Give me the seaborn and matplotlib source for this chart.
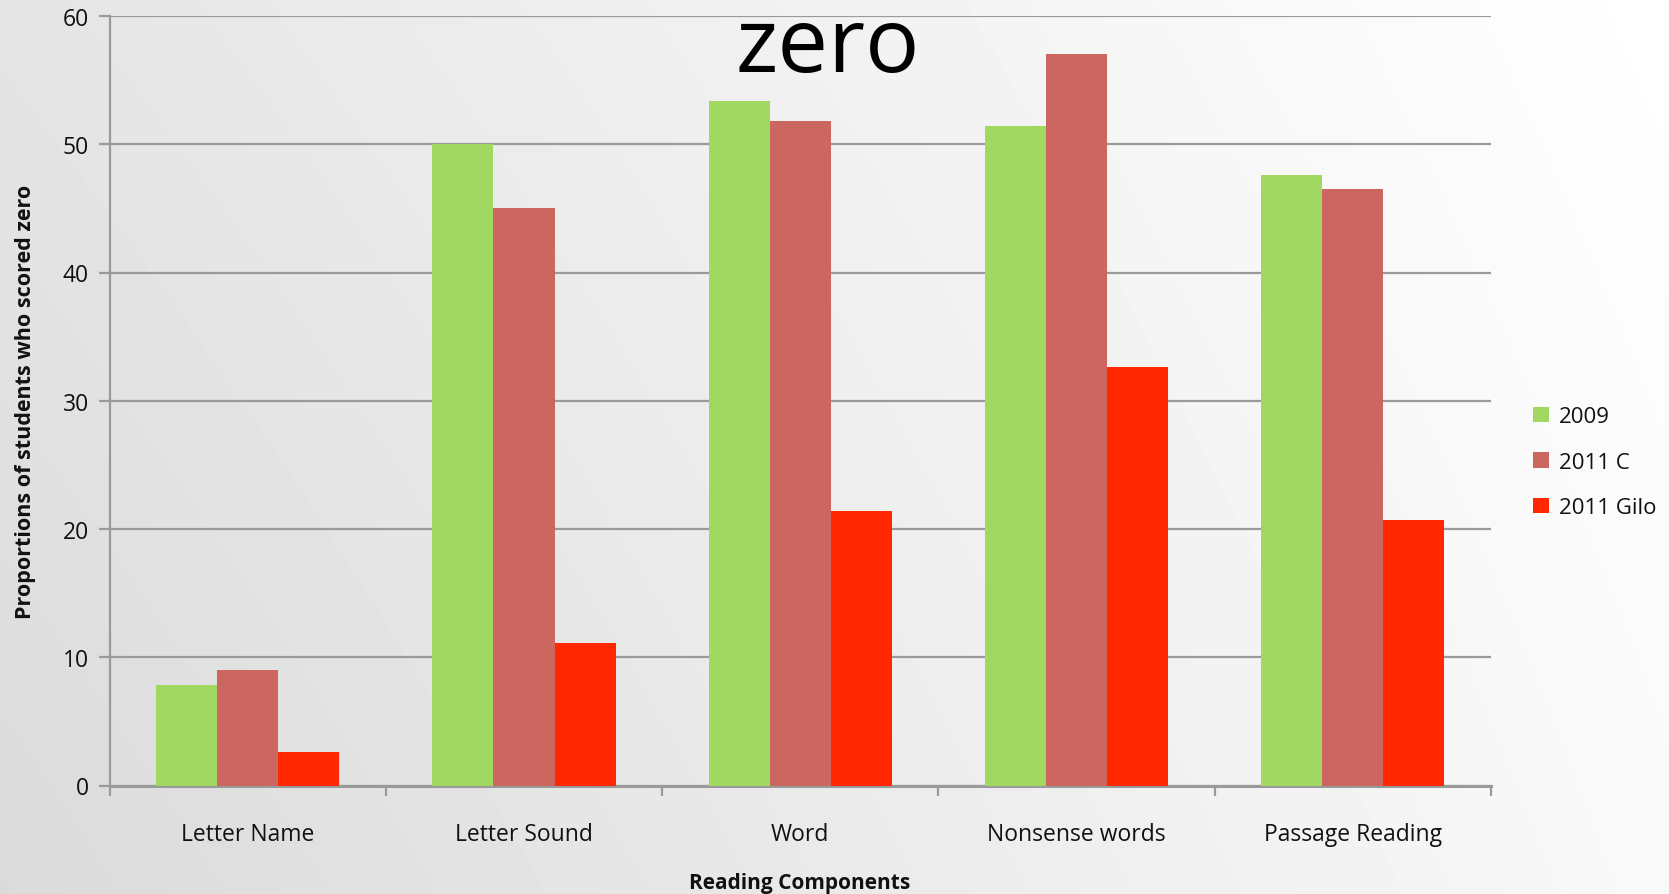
import numpy as np
import pandas as pd
import matplotlib
matplotlib.use("Agg")
import matplotlib.pyplot as plt
from matplotlib.ticker import FixedLocator
import seaborn as sns

# Reading-assessment results: share of students scoring zero per component
components = ["Letter Name", "Letter Sound", "Word", "Nonsense words", "Passage Reading"]
series_names = ["2009", "2011 C", "2011 Gilo"]
vals_2009 = [7.8, 50.0, 53.4, 51.4, 47.6]
vals_2011_c = [9.0, 45.0, 51.8, 57.0, 46.5]
vals_2011_gilo = [2.6, 11.1, 21.4, 32.6, 20.7]
y_ticks = [0, 10, 20, 30, 40, 50, 60]

palette = {"2009": "#A0D862", "2011 C": "#CC6660", "2011 Gilo": "#FF2800"}

df = pd.DataFrame({
    "component": components * 3,
    "series": sum([[s] * len(components) for s in series_names], []),
    "value": vals_2009 + vals_2011_c + vals_2011_gilo,
})

sns.set_theme(style="white")
FONT = ["Open Sans", "DejaVu Sans"]
plt.rcParams["font.family"] = FONT

W, H = 1669, 895
fig = plt.figure(figsize=(W / 100, H / 100), dpi=100)

# soft slide-style background: darker lower-left, bright upper-right
bg = fig.add_axes([0, 0, 1, 1], zorder=-10)
gx = np.linspace(0, 1, 300)
gy = np.linspace(0, 1, 200)
X, Y = np.meshgrid(gx, gy)
bl, br, tl, tr = 218, 249, 229, 255
V = (bl * (1 - X) * (1 - Y) + br * X * (1 - Y) + tl * (1 - X) * Y + tr * X * Y)
bg.imshow(V / 255.0, cmap="gray", vmin=0, vmax=1, origin="lower",
          extent=[0, 1, 0, 1], aspect="auto", interpolation="bilinear")
bg.set_axis_off()

ax = fig.add_axes([109.6 / W, 1 - 786.5 / H, (1491 - 109.6) / W, (786.5 - 17) / H])
ax.patch.set_alpha(0)

sns.barplot(data=df, x="component", y="value", hue="series", order=components,
            hue_order=series_names, palette=palette, width=0.663, gap=0,
            linewidth=0, saturation=1, errorbar=None, ax=ax, zorder=3)

ax.set_ylim(0, 60)
ax.set_xlim(-0.5, len(components) - 0.5)
ax.set_yticks(y_ticks)
ax.yaxis.grid(True, color="#9a9a9a", linewidth=1.6, zorder=0)
ax.set_axisbelow(True)

for side in ["top", "right"]:
    ax.spines[side].set_visible(False)
ax.spines["left"].set_color("#9a9a9a")
ax.spines["left"].set_linewidth(1.6)
ax.spines["bottom"].set_color("#9a9a9a")
ax.spines["bottom"].set_linewidth(2.2)

ax.tick_params(axis="y", which="major", length=8, width=1.6, color="#9a9a9a",
               labelsize=16.5, labelcolor="#111111", pad=7, left=True)
ax.tick_params(axis="x", which="major", length=0, labelsize=16.5,
               labelcolor="#111111", pad=26)
ax.xaxis.set_minor_locator(FixedLocator(np.arange(-0.5, len(components), 1.0)))
ax.tick_params(axis="x", which="minor", length=7, width=1.6, color="#9a9a9a",
               bottom=True)

for lab in ax.get_xticklabels() + ax.get_yticklabels():
    lab.set_fontfamily(FONT)

ax.set_xlabel("")
ax.set_ylabel("")
fig.text(800 / W, 1 - 884 / H, "Reading Components", fontsize=15,
         fontweight="bold", ha="center", va="center", color="#111111")
fig.text(26 / W, 1 - 402 / H, "Proportions of students who scored zero",
         fontsize=15.5, fontweight="bold", ha="center", va="center",
         rotation=90, color="#111111")

leg = ax.legend(loc="center left", bbox_to_anchor=(1.016, 0.42), frameon=False,
                fontsize=16, handlelength=0.7, handleheight=0.7,
                handletextpad=0.45, labelspacing=1.1)
for t in leg.get_texts():
    t.set_color("#111111")

fig.text(828 / W, 1 - 49 / H, "zero", fontsize=65, ha="center", va="center",
         color="black")

fig.savefig("out.png", dpi=100)
